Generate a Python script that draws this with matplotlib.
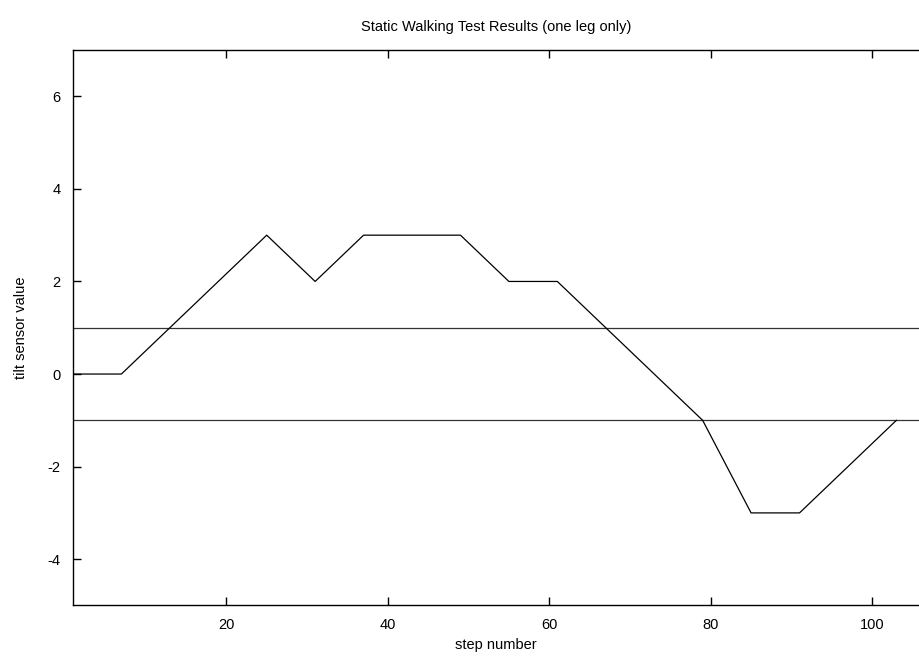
import matplotlib
matplotlib.use('Agg')
import matplotlib.pyplot as plt

# tilt readings at the turning points of the trace
steps = [1, 7, 25, 31, 37, 49, 55, 61, 79, 85, 91, 103]
tilt = [0, 0, 3, 2, 3, 3, 2, 2, -1, -3, -3, -1]
limits = [1, -1]
xticks = [20, 40, 60, 80, 100]
yticks = [-4, -2, 0, 2, 4, 6]

plt.rcParams['font.family'] = ['Liberation Sans', 'DejaVu Sans']
plt.rcParams['axes.unicode_minus'] = False

fig = plt.figure(figsize=(9.19, 6.65), dpi=100)
ax = fig.add_axes([0.0794, 0.0895, 0.9206, 0.8353])

for lim in limits:
    ax.axhline(lim, color='#333333', lw=0.9)
ax.plot(steps, tilt, color='black', lw=0.9)

ax.set_xlim(1, 105.8)
ax.set_ylim(-5, 7)
ax.set_xticks(xticks)
ax.set_yticks(yticks)
ax.tick_params(direction='in', length=6, width=1, labelsize=10.5,
               top=True, right=False, pad=9)
for s in ax.spines.values():
    s.set_linewidth(1)
ax.spines['right'].set_visible(False)

ax.set_title('Static Walking Test Results (one leg only)', fontsize=10.5, pad=14)
ax.set_xlabel('step number', fontsize=10.5, labelpad=4)
ax.set_ylabel('tilt sensor value', fontsize=10.5, labelpad=14)

fig.savefig('out.png', dpi=100)
